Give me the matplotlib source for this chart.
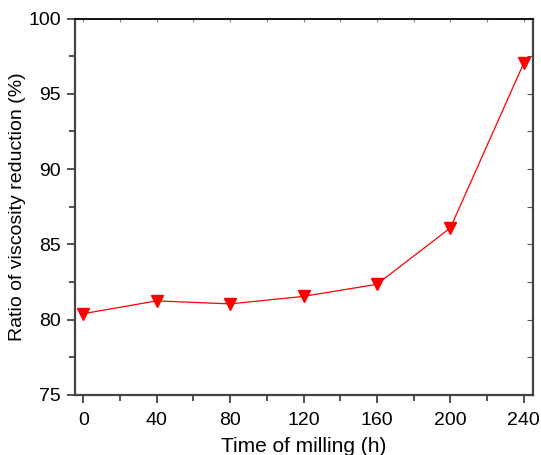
import matplotlib
matplotlib.use("Agg")
import matplotlib.pyplot as plt
from matplotlib.ticker import MultipleLocator

time_h = [0, 40, 80, 120, 160, 200, 240]
ratio = [80.4, 81.25, 81.05, 81.55, 82.35, 86.1, 97.05]

plt.rcParams['font.family'] = ['Liberation Sans', 'DejaVu Sans']

fig = plt.figure(figsize=(5.41, 4.55), dpi=100)
ax = fig.add_axes([75/541, 1-395/455, (533-75)/541, (395-18.5)/455])

ax.plot(time_h, ratio, color='red', lw=0.9, marker='v', markersize=9,
        markerfacecolor='red', markeredgecolor='red')

ax.set_xlim(-4.5, 245)
ax.set_ylim(75, 100)
ax.xaxis.set_major_locator(MultipleLocator(40))
ax.xaxis.set_minor_locator(MultipleLocator(20))
ax.yaxis.set_major_locator(MultipleLocator(5))
ax.yaxis.set_minor_locator(MultipleLocator(2.5))

ax.tick_params(axis='both', which='major', direction='out', length=6, width=1.2,
               labelsize=14, color='#333333')
ax.tick_params(axis='x', which='major', pad=6)
ax.tick_params(axis='y', which='major', pad=4)
ax.tick_params(axis='both', which='minor', direction='out', length=4, width=1.2,
               color='#333333')
ax.tick_params(top=False, right=False, which='both')

# inward ticks on top/right
secx = ax.secondary_xaxis('top')
secx.xaxis.set_major_locator(MultipleLocator(40))
secx.xaxis.set_minor_locator(MultipleLocator(20))
secx.tick_params(which='both', direction='in', length=3, width=0.8, labeltop=False, color='#888888')
secy = ax.secondary_yaxis('right')
secy.yaxis.set_major_locator(MultipleLocator(5))
secy.yaxis.set_minor_locator(MultipleLocator(2.5))
secy.tick_params(which='both', direction='in', length=4, width=0.8, labelright=False, color='#555555')
secx.spines['top'].set_visible(False)
secy.spines['right'].set_visible(False)

for s in ['left', 'bottom', 'right']:
    ax.spines[s].set_linewidth(1.6)
    ax.spines[s].set_color('#444444')
ax.spines['top'].set_linewidth(1.4)
ax.spines['top'].set_color('#111111')

ax.set_xlabel('Time of milling (h)', fontsize=15, labelpad=6)
ax.set_ylabel('Ratio of viscosity reduction (%)', fontsize=14, labelpad=2)

fig.savefig('out.png', dpi=100)
